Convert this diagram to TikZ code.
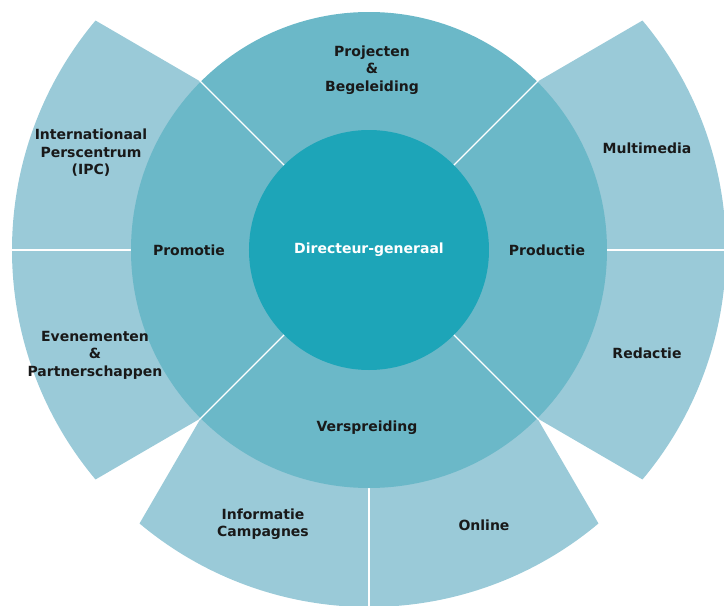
\documentclass[tikz,border=0pt]{standalone}
\usepackage{fontspec}
\setmainfont{DejaVu Sans}
\definecolor{outerblue}{HTML}{9ACAD8}
\definecolor{midblue}{HTML}{6BB8C8}
\definecolor{coreblue}{HTML}{1DA5B8}

\begin{document}
\begin{tikzpicture}[x=1pt, y=1pt,
    label/.style={align=center, font=\fontsize{14}{17.5}\selectfont\bfseries, text=black!90},
    sep/.style={draw=white, line width=1.4pt},
    core/.style={circle, fill=coreblue, minimum size=240pt, inner sep=0pt,
        font=\fontsize{14}{17}\selectfont\bfseries, text=white}
    ]
    \useasboundingbox (-369,-356) rectangle (355,250);

    % outer sectors: diagonal, arc start, arc end, diagonal
    \foreach \da/\oa/\ob/\db in {135/140/180/180, 180/180/220/225,
                                 225/230/270/270, 270/270/310/315,
                                 315/320/360/360, 0/0/40/45}
        \fill[outerblue] (0,0) -- (\da:238) -- (\oa:357)
            arc[start angle=\oa, end angle=\ob, radius=357] -- (\db:238) -- cycle;
    \foreach \a in {0,180,270}
        \draw[sep] (\a:236) -- (\a:360);

    % middle ring
    \fill[midblue] (0,0) circle[radius=238];
    \foreach \a in {45,135,225,315}
        \draw[sep] (\a:110) -- (\a:240);

    \node[core] (dg) at (0,0) {Directeur-generaal};

    \node[label] (proj) at (3,180) {Projecten\\\&\\Begeleiding};
    \node[label] (prom) at (-180,0) {Promotie};
    \node[label] (prod) at (178,0) {Productie};
    \node[label] (versp) at (-2,-178) {Verspreiding};

    \node[label] (ipc) at (-278,97) {Internationaal\\Perscentrum\\(IPC)};
    \node[label] (even) at (-274,-105) {Evenementen\\\&\\Partnerschappen};
    \node[label] (info) at (-106,-274) {Informatie\\Campagnes};
    \node[label] (online) at (115,-275) {Online};
    \node[label] (red) at (278,-103) {Redactie};
    \node[label] (mm) at (278,102) {Multimedia};
\end{tikzpicture}
\end{document}
